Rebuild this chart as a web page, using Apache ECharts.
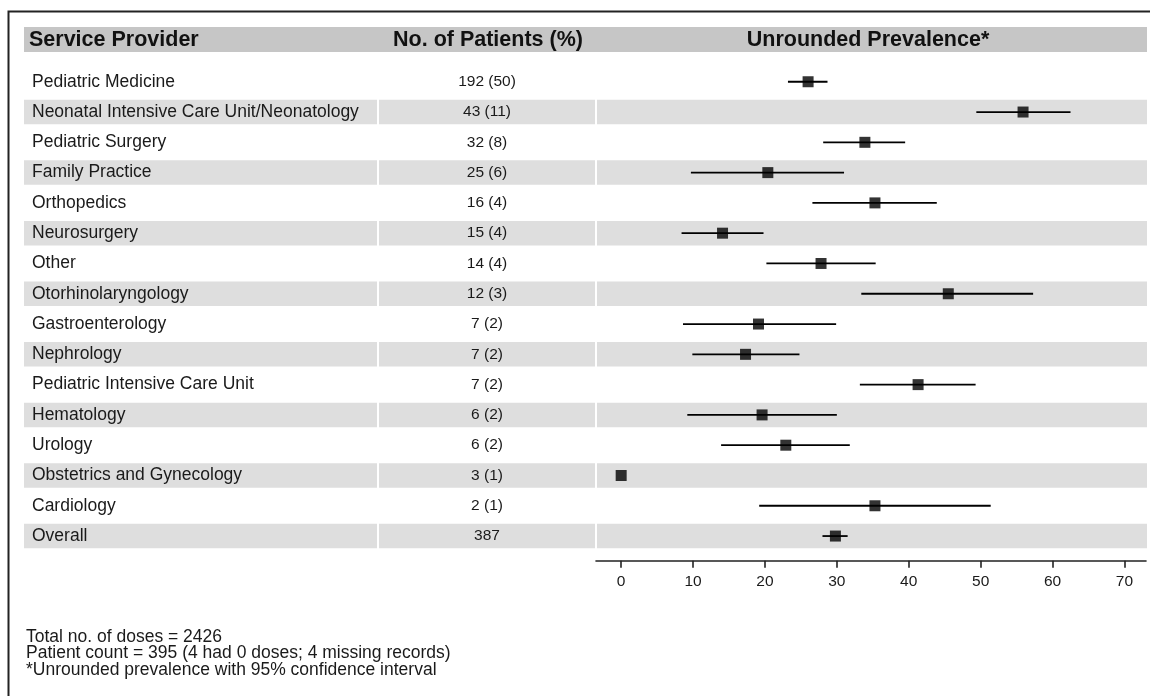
<!DOCTYPE html>
<html><head><meta charset="utf-8">
<script src="https://cdn.jsdelivr.net/npm/echarts@6/dist/echarts.min.js"></script>
<style>html,body{margin:0;padding:0;background:#fff}#c{width:1150px;height:696px}</style>
</head><body><div id="c"></div>
<script>
const providers = ['Pediatric Medicine','Neonatal Intensive Care Unit/Neonatology','Pediatric Surgery','Family Practice','Orthopedics','Neurosurgery','Other','Otorhinolaryngology','Gastroenterology','Nephrology','Pediatric Intensive Care Unit','Hematology','Urology','Obstetrics and Gynecology','Cardiology','Overall'];
const patients = ['192 (50)','43 (11)','32 (8)','25 (6)','16 (4)','15 (4)','14 (4)','12 (3)','7 (2)','7 (2)','7 (2)','6 (2)','6 (2)','3 (1)','2 (1)','387'];
const prevalence = [26.0, 55.9, 33.9, 20.4, 35.3, 14.1, 27.8, 45.5, 19.1, 17.3, 41.3, 19.6, 22.9, 0, 35.3, 29.8];
const ciLow  = [23.2, 49.4, 28.1, 9.7, 26.6, 8.4, 20.2, 33.4, 8.6, 9.9, 33.2, 9.2, 13.9, null, 19.2, 28.0];
const ciHigh = [28.7, 62.5, 39.5, 31.0, 43.9, 19.8, 35.4, 57.3, 29.9, 24.8, 49.3, 30.0, 31.8, null, 51.4, 31.5];
const xTicks = [0, 10, 20, 30, 40, 50, 60, 70];
const headers = ['Service Provider', 'No. of Patients (%)', 'Unrounded Prevalence*'];
const footnotes = ['Total no. of doses = 2426', 'Patient count = 395 (4 had 0 doses; 4 missing records)', '*Unrounded prevalence with 95% confidence interval'];

const FONT = '"Liberation Sans", Arial, Helvetica, sans-serif';
const TXT = '#1a1a1a';
const BAND = '#dedede';
const HEAD = '#c6c6c6';
// column layout (pixels)
const COL = { labelX: 32, numX: 487, bandL: [24, 379, 597], bandR: [377, 595, 1147], headTop: 27, headH: 25 };

const chart = echarts.init(document.getElementById('c'), null, { renderer: 'canvas' });

const graphics = [
  { type: 'rect', z: 0, shape: { x: 8.5, y: 11.5, width: 1170, height: 720 }, style: { fill: 'none', stroke: '#222', lineWidth: 2 } },
  { type: 'rect', z: 0, shape: { x: COL.bandL[0], y: COL.headTop, width: COL.bandR[2] - COL.bandL[0], height: COL.headH }, style: { fill: HEAD } }
];
const headX = [29, 488, 868];
const headAlign = ['left', 'center', 'center'];
headers.forEach((h, i) => {
  graphics.push({ type: 'text', z: 5, x: headX[i], y: COL.headTop + COL.headH / 2 + 1,
    style: { text: h, fill: '#111', fontFamily: FONT, fontSize: 21.5, fontWeight: 'bold',
      align: headAlign[i], verticalAlign: 'middle', textAlign: headAlign[i], textVerticalAlign: 'middle' } });
});
footnotes.forEach((f, i) => {
  graphics.push({ type: 'text', z: 5, x: 26, y: 637 + i * 16.5,
    style: { text: f, fill: TXT, fontFamily: FONT, fontSize: 17.5,
      align: 'left', verticalAlign: 'middle', textAlign: 'left', textVerticalAlign: 'middle' } });
});

const rowData = providers.map((p, i) => [0, i]);
const ciData = providers.map((p, i) => [ciLow[i] == null ? '-' : ciLow[i], ciHigh[i] == null ? '-' : ciHigh[i], i]);

chart.setOption({
  animation: false,
  backgroundColor: '#fff',
  graphic: { elements: graphics },
  grid: { left: 596, right: 4, top: 66.6, height: 484.6, containLabel: false },
  xAxis: {
    type: 'value', min: -3.5, max: 73, offset: 9.5,
    axisLine: { show: true, lineStyle: { color: '#222', width: 1.6 } },
    axisTick: { show: true, customValues: xTicks, length: 7, lineStyle: { color: '#222', width: 1.6 } },
    axisLabel: { customValues: xTicks, fontSize: 15.5, color: TXT, fontFamily: FONT, margin: 13 },
    splitLine: { show: false }
  },
  yAxis: {
    type: 'category', data: providers, inverse: true, show: false,
    axisLine: { show: false }, axisTick: { show: false }, axisLabel: { show: false }
  },
  series: [
    {
      type: 'custom', name: 'rows', z: 1, clip: false, silent: true,
      data: rowData, encode: { x: 0, y: 1 },
      renderItem: function (params, api) {
        const i = api.value(1);
        const y = api.coord([0, i])[1];
        const h = 24.5;
        const children = [];
        if (i % 2 === 1) {
          for (let k = 0; k < 3; k++) {
            children.push({ type: 'rect', shape: { x: COL.bandL[k], y: y - h / 2, width: COL.bandR[k] - COL.bandL[k], height: h }, style: { fill: BAND } });
          }
        }
        children.push({ type: 'text', x: COL.labelX, y: y, style: { text: providers[i], fill: TXT, fontFamily: FONT, fontSize: 17.5, align: 'left', verticalAlign: 'middle', textAlign: 'left', textVerticalAlign: 'middle' } });
        children.push({ type: 'text', x: COL.numX, y: y, style: { text: patients[i], fill: TXT, fontFamily: FONT, fontSize: 15.5, align: 'center', verticalAlign: 'middle', textAlign: 'center', textVerticalAlign: 'middle' } });
        return { type: 'group', children: children };
      }
    },
    {
      type: 'custom', name: 'ci', z: 3, clip: false, silent: true,
      data: ciData, encode: { x: [0, 1], y: 2 },
      renderItem: function (params, api) {
        const lo = api.value(0), hi = api.value(1), i = api.value(2);
        if (isNaN(lo) || isNaN(hi)) return null;
        const p1 = api.coord([lo, i]);
        const p2 = api.coord([hi, i]);
        return { type: 'line', shape: { x1: p1[0], y1: p1[1], x2: p2[0], y2: p2[1] }, style: { stroke: '#000', lineWidth: 1.8 } };
      }
    },
    {
      type: 'scatter', name: 'prevalence', z: 4, silent: true,
      symbol: 'rect', symbolSize: 11,
      itemStyle: { color: '#000' },
      data: prevalence.map((v, i) => [v, i])
    }
  ]
});
</script>
</body></html>
